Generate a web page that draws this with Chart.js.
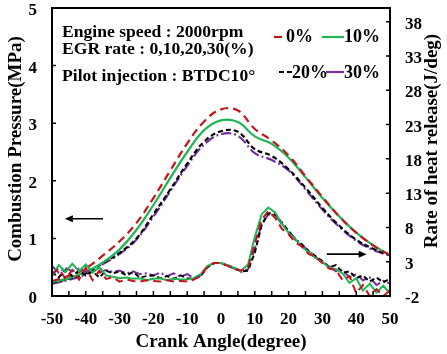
<!DOCTYPE html>
<html>
<head>
<meta charset="utf-8">
<script src="https://cdn.jsdelivr.net/npm/chart.js@4.4.1/dist/chart.umd.min.js"></script>
<style>
  html, body { margin: 0; padding: 0; background: #fff; }
  #wrap { width: 447px; height: 354px; }
</style>
</head>
<body>
<div id="wrap"><canvas id="chart" width="447" height="354"></canvas></div>
<script>
// crank angle (deg) for the pressure traces, every 5 deg
const crankAngle = [-50, -45, -40, -35, -30, -25, -20, -15, -10, -5, 0, 5, 10, 15, 20, 25, 30, 35, 40, 45, 50];

// combustion pressure (MPa) for EGR 0/10/20/30 %
const pressure0 = [0.26, 0.35, 0.48, 0.70, 0.95, 1.27, 1.70, 2.18, 2.65, 3.03, 3.24, 3.22, 2.90, 2.70, 2.44, 2.08, 1.72, 1.38, 1.10, 0.88, 0.71];
const pressure10 = [0.24, 0.31, 0.42, 0.58, 0.81, 1.15, 1.58, 2.05, 2.50, 2.88, 3.05, 3.02, 2.77, 2.64, 2.40, 2.06, 1.70, 1.38, 1.10, 0.88, 0.71];
const pressure20 = [0.23, 0.30, 0.40, 0.57, 0.75, 1.00, 1.42, 1.85, 2.30, 2.68, 2.86, 2.85, 2.55, 2.43, 2.20, 1.88, 1.53, 1.22, 0.98, 0.82, 0.71];
const pressure30 = [0.21, 0.28, 0.38, 0.55, 0.73, 0.98, 1.38, 1.82, 2.26, 2.63, 2.81, 2.78, 2.48, 2.36, 2.18, 1.85, 1.50, 1.20, 0.96, 0.80, 0.70];

// crank angle (deg) for the heat release traces, every 2 deg
const crankAngleFine = [-50, -48, -46, -44, -42, -40, -38, -36, -34, -32, -30, -28, -26, -24, -22, -20, -18, -16, -14, -12, -10, -8, -6, -4, -2,
  0, 2, 4, 6, 8, 10, 12, 14, 16, 18, 20, 22, 24, 26, 28, 30, 32, 34, 36, 38, 40, 42, 44, 46, 48, 50];

// rate of heat release (J/deg)
const heat0 = [1.2, 2.0, 0.5, 1.8, 0.4, 2.1, 0.3, 1.7, 0.5, 0.7, 0.1, 0.4, 0.2, 0.1, 0.3, 0.2, 0.1, 0.3, 0.1, 0.2, 0.1, 0.4, 1.0, 2.3, 2.8,
  2.8, 2.4, 2.0, 1.7, 2.2, 5.6, 9.1, 10.4, 9.4, 7.8, 7.0, 5.8, 5.2, 4.1, 3.7, 2.8, 2.0, 1.8, 0.3, 0.9, -1.6, -0.4, -2.0, -1.0, -2.0, -1.2];
const heat10 = [0.9, 2.5, 1.5, 2.7, 1.6, 2.6, 1.4, 2.2, 1.0, 0.8, 0.6, 0.7, 0.5, 0.6, 0.3, 0.5, 0.6, 0.3, 0.5, 0.4, 0.4, 0.6, 1.2, 2.4, 2.8,
  2.8, 2.5, 2.1, 1.7, 2.6, 6.6, 9.9, 10.9, 10.2, 8.5, 7.2, 6.3, 5.1, 4.4, 3.5, 3.0, 2.1, 1.9, 1.3, -0.1, 0.6, -1.2, -0.2, -1.5, -0.5, -1.6];
const heat20 = [1.5, 0.7, 1.8, 0.9, 1.7, 1.0, 1.6, 0.7, 1.7, 1.3, 1.6, 1.0, 1.5, 0.7, 0.9, 1.0, 0.6, 0.9, 0.5, 1.0, 0.6, 0.5, 0.9, 2.2, 2.8,
  2.8, 2.4, 2.0, 1.6, 1.7, 4.3, 8.3, 10.1, 9.9, 8.7, 7.5, 6.2, 5.5, 4.5, 3.8, 3.1, 2.2, 2.5, 1.4, 1.6, 0.6, 1.0, 0.1, 0.7, 0.0, 0.5];
const heat30 = [2.4, 1.4, 2.1, 1.6, 2.0, 1.5, 1.9, 1.4, 1.8, 1.5, 1.7, 1.3, 1.6, 1.2, 1.3, 1.0, 1.4, 0.9, 1.3, 0.8, 1.2, 0.6, 1.0, 2.3, 2.8,
  2.8, 2.5, 2.0, 1.5, 1.9, 4.9, 8.5, 9.9, 9.8, 8.5, 7.3, 6.4, 5.4, 4.6, 3.7, 2.9, 2.4, 1.6, 1.8, 0.7, 1.2, 0.3, 0.7, -0.4, 0.2, -0.2];

// axes
const angleTicks = [-50, -40, -30, -20, -10, 0, 10, 20, 30, 40, 50];
const angleTickMarks = [-45, -40, -35, -30, -25, -20, -15, -10, -5, 0, 5, 10, 15, 20, 25, 30, 35, 40, 45];
const pressureTicks = [0, 1, 2, 3, 4, 5];
const heatTicks = [-2, 3, 8, 13, 18, 23, 28, 33, 38];

const seriesLabels = ["0%", "10%", "20%", "30%"];
const seriesColors = ["#c0161d", "#1fb555", "#000000", "#7030a0"];
const seriesDash = [[8, 5], [], [5, 3], [10, 3, 2, 3]];
const noteLines = ["Engine speed : 2000rpm", "EGR rate : 0,10,20,30(%)", "Pilot injection : BTDC10\u00b0"];

const SERIF = '"Liberation Serif", "Times New Roman", serif';

function pts(xs, ys) {
  return xs.map((x, i) => ({ x, y: ys[i] }));
}

function txt(ctx, s, x, y, size, align, rot) {
  ctx.save();
  ctx.translate(x, y);
  if (rot) ctx.rotate(rot);
  ctx.font = `bold ${size}px ${SERIF}`;
  ctx.textAlign = align || "left";
  ctx.textBaseline = "alphabetic";
  ctx.fillStyle = "#000";
  ctx.fillText(s, 0, 0);
  ctx.restore();
}

function arrow(ctx, x1, y, x2) {
  // head at x2
  const dir = x2 > x1 ? 1 : -1;
  ctx.save();
  ctx.strokeStyle = "#000";
  ctx.fillStyle = "#000";
  ctx.lineWidth = 1.6;
  ctx.beginPath();
  ctx.moveTo(x1, y);
  ctx.lineTo(x2 - dir * 6, y);
  ctx.stroke();
  ctx.beginPath();
  ctx.moveTo(x2, y);
  ctx.lineTo(x2 - dir * 8, y - 3.5);
  ctx.lineTo(x2 - dir * 8, y + 3.5);
  ctx.closePath();
  ctx.fill();
  ctx.restore();
}

const framePlugin = {
  id: "frame",
  afterDraw(chart) {
    const ctx = chart.ctx;
    const { left, right, top, bottom } = chart.chartArea;
    const xs = chart.scales.x, ys = chart.scales.y, y1 = chart.scales.y1;

    // box + inward tick marks
    ctx.save();
    ctx.strokeStyle = "#000";
    ctx.lineWidth = 2;
    ctx.strokeRect(left, top, right - left, bottom - top);
    ctx.lineWidth = 1.5;
    ctx.beginPath();
    angleTickMarks.forEach((v) => {
      const px = xs.getPixelForValue(v);
      ctx.moveTo(px, bottom);
      ctx.lineTo(px, bottom - 5);
    });
    pressureTicks.slice(1, -1).forEach((v) => {
      const py = ys.getPixelForValue(v);
      ctx.moveTo(left, py);
      ctx.lineTo(left + 4, py);
    });
    heatTicks.slice(1).forEach((v) => {
      const py = y1.getPixelForValue(v);
      ctx.moveTo(right, py);
      ctx.lineTo(right - 4, py);
    });
    ctx.stroke();
    ctx.restore();

    // tick labels
    angleTicks.forEach((v) => txt(ctx, String(v), xs.getPixelForValue(v), 324, 17, "center"));
    pressureTicks.forEach((v) => txt(ctx, String(v), 37, ys.getPixelForValue(v) + 7, 17, "right"));
    heatTicks.forEach((v) => txt(ctx, String(v), 405, y1.getPixelForValue(v) + 7, 17, "left"));

    // axis titles
    txt(ctx, "Crank Angle(degree)", (left + right) / 2, 347, 19, "center");
    txt(ctx, "Combustion Pressure(MPa)", 21, 149, 19, "center", -Math.PI / 2);
    txt(ctx, "Rate of heat release(J/deg)", 437, 141, 19, "center", -Math.PI / 2);

    // notes
    txt(ctx, noteLines[0], 62, 37, 17.6, "left");
    txt(ctx, noteLines[1], 62, 54, 17.6, "left");
    txt(ctx, noteLines[2], 62, 81, 17.6, "left");

    // legend
    const legend = [
      { x1: 274, x2: 282, y: 37, tx: 286, ty: 42 },
      { x1: 322, x2: 344, y: 37, tx: 344, ty: 42 },
      { x1: 279, x2: 292, y: 72, tx: 292, ty: 78 },
      { x1: 326, x2: 344, y: 72, tx: 344, ty: 78 },
    ];
    legend.forEach((l, i) => {
      ctx.save();
      ctx.strokeStyle = seriesColors[i];
      ctx.lineWidth = 2.2;
      ctx.setLineDash(i === 2 ? [5, 3] : []);
      ctx.beginPath();
      ctx.moveTo(l.x1, l.y);
      ctx.lineTo(l.x2, l.y);
      ctx.stroke();
      ctx.restore();
      txt(ctx, seriesLabels[i], l.tx, l.ty, 18, "left");
    });

    // direction arrows
    arrow(ctx, xs.getPixelForValue(-34.9), ys.getPixelForValue(1.34), xs.getPixelForValue(-46.2));
    arrow(ctx, xs.getPixelForValue(31.3), y1.getPixelForValue(4.1), xs.getPixelForValue(43.1));
  },
};

const pressureSets = [pressure0, pressure10, pressure20, pressure30];
const heatSets = [heat0, heat10, heat20, heat30];

const datasets = [];
heatSets.forEach((h, i) => {
  datasets.push({
    label: "HRR " + seriesLabels[i],
    data: pts(crankAngleFine, h),
    yAxisID: "y1",
    borderColor: seriesColors[i],
    borderWidth: 2,
    borderDash: seriesDash[i],
    pointRadius: 0,
    tension: 0,
    fill: false,
  });
});
pressureSets.forEach((p, i) => {
  datasets.push({
    label: "P " + seriesLabels[i],
    data: pts(crankAngle, p),
    yAxisID: "y",
    borderColor: seriesColors[i],
    borderWidth: 2.2,
    borderDash: seriesDash[i],
    pointRadius: 0,
    tension: 0.4,
    fill: false,
  });
});

new Chart(document.getElementById("chart"), {
  type: "line",
  data: { datasets },
  options: {
    responsive: false,
    animation: false,
    layout: { padding: { top: 8, left: 0, right: 0, bottom: 0 } },
    plugins: { legend: { display: false }, tooltip: { enabled: false } },
    scales: {
      x: {
        type: "linear",
        min: -50,
        max: 50,
        ticks: { display: false },
        grid: { display: false },
        border: { display: false },
        afterFit: (s) => { s.height = 58; },
      },
      y: {
        position: "left",
        min: 0,
        max: 5,
        ticks: { display: false },
        grid: { display: false },
        border: { display: false },
        afterFit: (s) => { s.width = 52; },
      },
      y1: {
        position: "right",
        min: -2,
        max: 40,
        ticks: { display: false },
        grid: { display: false },
        border: { display: false },
        afterFit: (s) => { s.width = 57; },
      },
    },
  },
  plugins: [framePlugin],
});
</script>
</body>
</html>
